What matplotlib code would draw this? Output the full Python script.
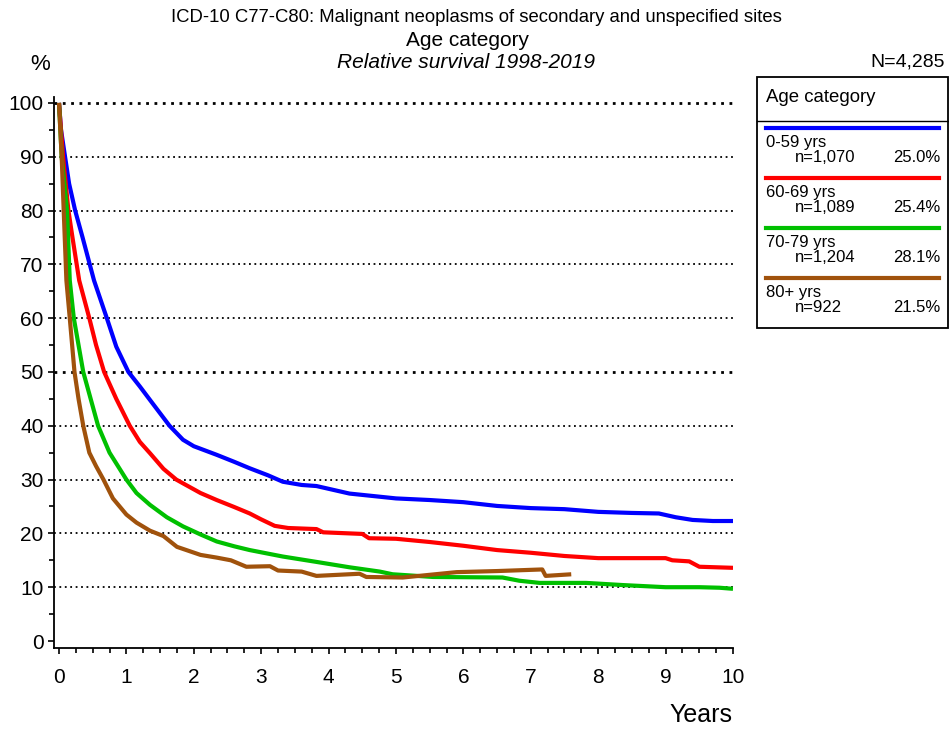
import matplotlib
matplotlib.use("Agg")
import matplotlib.pyplot as plt
from matplotlib.lines import Line2D
from matplotlib.patches import Rectangle
from matplotlib.ticker import MultipleLocator

plt.rcParams['font.family'] = ['Liberation Sans', 'DejaVu Sans']

# ---- data ----
labels = ["0-59 yrs", "60-69 yrs", "70-79 yrs", "80+ yrs"]
counts = ["n=1,070", "n=1,089", "n=1,204", "n=922"]
shares = ["25.0%", "25.4%", "28.1%", "21.5%"]
colors = ["#0000FF", "#FF0000", "#00C000", "#A0520C"]

t_0_59 = [0, 0.03, 0.09, 0.15, 0.24, 0.35, 0.52, 0.71, 0.85, 1.03, 1.2, 1.35, 1.64, 1.84,
          2.0, 2.34, 2.6, 2.83, 3.1, 3.32, 3.6, 3.82, 4.31, 5.0, 5.5, 6.0, 6.5, 7.0, 7.5,
          8.0, 8.5, 8.9, 9.15, 9.4, 9.7, 10]
v_0_59 = [100, 95, 90, 85, 80, 75, 67, 60, 54.7, 50, 47.3, 44.8, 40, 37.4,
          36.2, 34.6, 33.3, 32.1, 30.8, 29.6, 29.0, 28.8, 27.4, 26.5, 26.2, 25.8, 25.1, 24.7, 24.5,
          24.0, 23.8, 23.7, 23.0, 22.5, 22.3, 22.3]

t_60_69 = [0, 0.03, 0.06, 0.1, 0.14, 0.2, 0.3, 0.45, 0.55, 0.67, 0.85, 1.05, 1.2, 1.35,
           1.55, 1.74, 1.84, 2.1, 2.34, 2.6, 2.83, 3.0, 3.2, 3.4, 3.82, 3.92, 4.5, 4.6, 5.0,
           5.5, 6.0, 6.5, 7.0, 7.5, 8.0, 9.0, 9.1, 9.35, 9.5, 10]
v_60_69 = [100, 95, 90, 85, 80, 75, 67, 60, 55, 50, 45, 40, 37, 34.9,
           32, 30, 29.3, 27.5, 26.2, 24.9, 23.7, 22.6, 21.4, 21.0, 20.8, 20.2, 19.9, 19.1, 19.0,
           18.4, 17.7, 16.9, 16.4, 15.8, 15.4, 15.4, 15.0, 14.8, 13.8, 13.6]

t_70_79 = [0, 0.02, 0.04, 0.08, 0.12, 0.16, 0.22, 0.36, 0.47, 0.58, 0.75, 1.0, 1.15, 1.35,
           1.6, 1.84, 2.1, 2.34, 2.6, 2.83, 3.32, 3.82, 4.31, 4.76, 4.95, 5.55, 6.58, 6.83,
           7.13, 7.82, 8.36, 9.0, 9.5, 9.8, 10]
v_70_79 = [100, 95, 90, 85, 80, 67, 60, 50, 45, 40, 35, 30, 27.5, 25.3,
           23, 21.3, 19.8, 18.5, 17.6, 16.9, 15.7, 14.7, 13.7, 12.9, 12.4, 11.9, 11.8, 11.2,
           10.8, 10.8, 10.4, 10.0, 10.0, 9.9, 9.7]

t_80p = [0, 0.02, 0.04, 0.07, 0.11, 0.16, 0.23, 0.29, 0.36, 0.45, 0.55, 0.66, 0.8, 1.0,
         1.15, 1.35, 1.55, 1.75, 2.1, 2.34, 2.55, 2.78, 3.13, 3.25, 3.6, 3.82, 4.46, 4.56,
         5.1, 5.5, 5.9, 6.5, 7.17, 7.22, 7.6]
v_80p = [100, 95, 90, 80, 67, 60, 50, 45, 40, 35, 32.5, 30, 26.5, 23.5,
         22, 20.5, 19.5, 17.5, 16, 15.5, 15, 13.8, 13.9, 13.1, 12.9, 12.1, 12.5, 11.9,
         11.8, 12.3, 12.8, 13.0, 13.3, 12.1, 12.4]

series_t = [t_0_59, t_60_69, t_70_79, t_80p]
series_v = [v_0_59, v_60_69, v_70_79, v_80p]

W, H = 949, 729
fig = plt.figure(figsize=(W / 100, H / 100), dpi=100)

def fx(px):
    return px / W

def fy(py):
    return 1 - py / H

ax = fig.add_axes([fx(54), fy(648), fx(733) - fx(54), fy(97) - fy(648)])
ax.set_xlim(-0.074, 10)
ax.set_ylim(-1.3, 101.1)

for yv in range(10, 101, 10):
    lw = 2.0 if yv in (50, 100) else 1.3
    ax.axhline(yv, color='black', lw=lw, ls=(0, (1, 2)), zorder=1)

for i, (t, v, c) in enumerate(zip(series_t, series_v, colors)):
    ax.plot(t, v, color=c, lw=3.0, solid_joinstyle='round', solid_capstyle='butt', zorder=3 + i)

for s in ['top', 'right']:
    ax.spines[s].set_visible(False)
ax.spines['left'].set_linewidth(1.3)
ax.spines['bottom'].set_linewidth(1.3)

ax.xaxis.set_major_locator(MultipleLocator(1))
ax.xaxis.set_minor_locator(MultipleLocator(0.25))
ax.yaxis.set_major_locator(MultipleLocator(10))
ax.yaxis.set_minor_locator(MultipleLocator(5))
ax.set_yticks(range(0, 101, 10))
ax.tick_params(axis='both', which='major', labelsize=15, width=1.2, length=4.5, direction='out')
ax.tick_params(axis='both', which='minor', width=1.2, length=3.5, direction='out')
ax.tick_params(axis='x', pad=10)
ax.tick_params(axis='y', pad=3)

# titles
fig.text(fx(476), fy(18), "ICD-10 C77-C80: Malignant neoplasms of secondary and unspecified sites",
         ha='center', va='center', fontsize=13.3)
fig.text(fx(468), fy(40), "Age category", ha='center', va='center', fontsize=15)
fig.text(fx(466), fy(62), "Relative survival 1998-2019", ha='center', va='center',
         fontsize=15, style='italic')
fig.text(fx(40), fy(65), "%", ha='center', va='center', fontsize=16)
fig.text(fx(945), fy(62), "N=4,285", ha='right', va='center', fontsize=14)
fig.text(fx(701), fy(715), "Years", ha='center', va='center', fontsize=18)

# legend box
fig.patches.append(Rectangle((fx(757), fy(328)), fx(948) - fx(757), fy(77) - fy(328),
                             transform=fig.transFigure, fill=False, ec='black', lw=1.3))
fig.lines.append(Line2D([fx(757), fx(948)], [fy(121), fy(121)], transform=fig.transFigure,
                        color='black', lw=1.0))
fig.text(fx(766), fy(98), "Age category", ha='left', va='center', fontsize=13.4)
for i, (lab, n, p, c) in enumerate(zip(labels, counts, shares, colors)):
    y0 = 128 + 50 * i
    fig.lines.append(Line2D([fx(766), fx(939)], [fy(y0), fy(y0)], transform=fig.transFigure,
                            color=c, lw=3.0))
    fig.text(fx(766), fy(y0 + 15), lab, ha='left', va='center', fontsize=12)
    fig.text(fx(795), fy(y0 + 30), n, ha='left', va='center', fontsize=12)
    fig.text(fx(940), fy(y0 + 30), p, ha='right', va='center', fontsize=12)

fig.savefig("out.png", dpi=100)
